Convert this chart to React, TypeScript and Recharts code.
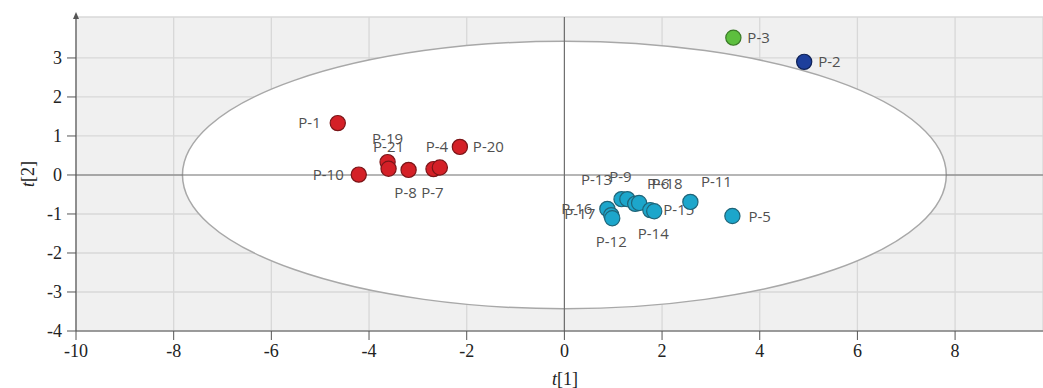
import {
  CartesianGrid,
  ReferenceArea,
  ReferenceDot,
  ReferenceLine,
  Scatter,
  ScatterChart,
  XAxis,
  YAxis,
} from "recharts";

const xTicks = [-10, -8, -6, -4, -2, 0, 2, 4, 6, 8];
const yTicks = [-4, -3, -2, -1, 0, 1, 2, 3];

const redNames = ["P-1", "P-10", "P-19", "P-21", "P-8", "P-7", "P-4", "P-20"];
const redX = [-4.64, -4.21, -3.62, -3.6, -3.19, -2.68, -2.55, -2.14];
const redY = [1.33, 0.01, 0.33, 0.16, 0.13, 0.15, 0.19, 0.72];

const cyanNames = ["P-16", "P-17", "P-12", "P-13", "P-9", "P-6", "P-18", "P-15", "P-14", "P-11", "P-5"];
const cyanX = [0.88, 0.96, 0.98, 1.17, 1.29, 1.45, 1.53, 1.76, 1.84, 2.58, 3.44];
const cyanY = [-0.87, -1.03, -1.11, -0.62, -0.62, -0.74, -0.72, -0.9, -0.93, -0.69, -1.05];

const greenNames = ["P-3"];
const greenX = [3.46];
const greenY = [3.52];

const blueNames = ["P-2"];
const blueX = [4.91];
const blueY = [2.9];

// Hotelling T2 ellipse semi-axes
const ellipseA = 7.82;
const ellipseB = 3.43;

// label placement: dx, dy (px from centre), anchor
const labelPlace: Record<string, [number, number, string]> = {
  "P-1": [-17, 0, "end"],
  "P-10": [-15, 0, "end"],
  "P-19": [0, -23, "middle"],
  "P-21": [0, -22, "middle"],
  "P-8": [-3, 23, "middle"],
  "P-7": [-1, 24, "middle"],
  "P-4": [-3, -21, "middle"],
  "P-20": [13, 0, "start"],
  "P-16": [-15, 0, "end"],
  "P-17": [-16, -1, "end"],
  "P-12": [-1, 24, "middle"],
  "P-13": [-25, -19, "middle"],
  "P-9": [-7, -22, "middle"],
  "P-6": [23, -20, "middle"],
  "P-18": [28, -19, "middle"],
  "P-15": [13, 0, "start"],
  "P-14": [-1, 23, "middle"],
  "P-11": [26, -20, "middle"],
  "P-5": [16, 1, "start"],
  "P-3": [14, 0, "start"],
  "P-2": [14, 0, "start"],
};

const build = (names: string[], xs: number[], ys: number[]) =>
  names.map((name, i) => ({ name, x: xs[i], y: ys[i] }));

const groups = [
  { key: "red", data: build(redNames, redX, redY), fill: "#d42027", stroke: "#7a1518" },
  { key: "cyan", data: build(cyanNames, cyanX, cyanY), fill: "#1ca6cb", stroke: "#1f6478" },
  { key: "green", data: build(greenNames, greenX, greenY), fill: "#5dbf3e", stroke: "#3b7a28" },
  { key: "blue", data: build(blueNames, blueX, blueY), fill: "#1d3f9c", stroke: "#0f2257" },
];

const makeDot = (fill: string, stroke: string) => (props: any) => {
  const { cx, cy, payload } = props;
  const p = labelPlace[payload.name] || [12, 0, "start"];
  return (
    <g>
      <circle cx={cx} cy={cy} r={7.6} fill={fill} stroke={stroke} strokeWidth={1.2} />
      <text
        x={cx + p[0]}
        y={cy + p[1] + 5}
        textAnchor={p[2] as any}
        fontFamily="'Open Sans', sans-serif"
        fontSize={15}
        fill="#505050"
      >
        {payload.name}
      </text>
    </g>
  );
};

const EllipseShape = (props: any) => {
  const { x, y, width, height } = props;
  return (
    <ellipse
      cx={x + width / 2}
      cy={y + height / 2}
      rx={Math.abs(width) / 2}
      ry={Math.abs(height) / 2}
      fill="#ffffff"
      stroke="#a8a8a8"
      strokeWidth={1.5}
    />
  );
};

const ArrowShape = (props: any) => {
  const { cx, cy } = props;
  return <path d={`M${cx - 3},${cy + 2} L${cx},${cy - 5} L${cx + 3},${cy + 2} Z`} fill="#555" />;
};

const XTick = (props: any) => {
  const { x, y, payload } = props;
  return (
    <text x={x} y={y + 14} textAnchor="middle" fontFamily="'Liberation Serif', serif" fontSize={18} fill="#222">
      {payload.value}
    </text>
  );
};

const YTick = (props: any) => {
  const { x, y, payload } = props;
  return (
    <text x={x} y={y + 6} textAnchor="end" fontFamily="'Liberation Serif', serif" fontSize={18} fill="#222">
      {payload.value}
    </text>
  );
};

const App = () => {
  return (
    <div style={{ width: 1043, height: 388, background: "#fff" }}>
      <style>{"body{margin:0}"}</style>
      <ScatterChart width={1043} height={388} margin={{ top: 17, right: 0, left: 0, bottom: 0 }}>
        <CartesianGrid horizontal={false} vertical={false} fill="#f0f0f0" fillOpacity={1} />
        <ReferenceArea
          x1={-ellipseA}
          x2={ellipseA}
          y1={-ellipseB}
          y2={ellipseB}
          shape={EllipseShape}
        />
        <CartesianGrid stroke="#d8d8d8" strokeWidth={1.3} />
        <ReferenceLine x={0} stroke="#6e6e6e" strokeWidth={1.2} />
        <ReferenceLine y={0} stroke="#6e6e6e" strokeWidth={1.2} />
        <XAxis
          type="number"
          dataKey="x"
          domain={[-10, 9.8]}
          ticks={xTicks}
          allowDataOverflow
          height={57}
          tickSize={9}
          tickMargin={3}
          tick={<XTick />}
          axisLine={{ stroke: "#555", strokeWidth: 1.2 }}
          tickLine={{ stroke: "#555" }}
          label={{
            content: (p: any) => {
              const vb = p.viewBox;
              return (
                <text x={vb.x + 489} y={vb.y + 54} textAnchor="middle" fontFamily="'Liberation Serif', serif" fontSize={18} fill="#222">
                  <tspan fontStyle="italic">t</tspan>[1]
                </text>
              );
            },
          }}
        />
        <YAxis
          type="number"
          dataKey="y"
          domain={[-4, 4.05]}
          ticks={yTicks}
          allowDataOverflow
          width={76}
          tickSize={9}
          tickMargin={5}
          tick={<YTick />}
          axisLine={{ stroke: "#555", strokeWidth: 1.2 }}
          tickLine={{ stroke: "#555" }}
          label={{
            content: (p: any) => {
              const vb = p.viewBox;
              const cx = 30;
              const cy = vb.y + vb.height / 2;
              return (
                <text x={cx} y={cy} transform={`rotate(-90 ${cx} ${cy})`} textAnchor="middle" dominantBaseline="middle" fontFamily="'Liberation Serif', serif" fontSize={18} fill="#222">
                  <tspan fontStyle="italic">t</tspan>[2]
                </text>
              );
            },
          }}
        />
        <ReferenceDot x={-10} y={4.05} r={3} shape={ArrowShape} ifOverflow="visible" />
        {groups.map((g) => (
          <Scatter
            key={g.key}
            data={g.data}
            isAnimationActive={false}
            shape={makeDot(g.fill, g.stroke)}
          />
        ))}
      </ScatterChart>
    </div>
  );
};

export default App;
